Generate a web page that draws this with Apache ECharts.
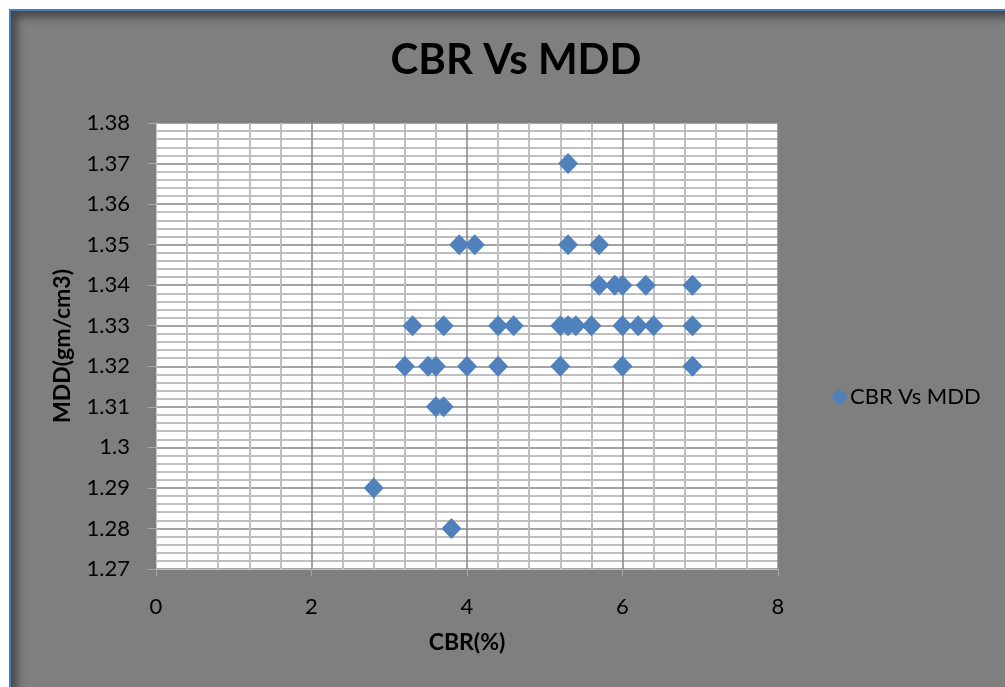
<!DOCTYPE html>
<html>
<head>
<meta charset="utf-8">
<script src="https://cdn.jsdelivr.net/npm/echarts@6/dist/echarts.min.js"></script>
<style>
html,body{margin:0;padding:0;background:#ffffff;overflow:hidden;}
#frame{position:absolute;left:9px;top:9px;width:1010px;height:700px;background:#7f7f7f;border-left:2px solid #4a7ebb;border-top:2px solid #4a7ebb;box-shadow:inset 6px 6px 10px rgba(0,0,0,0.45);}
#chart{position:absolute;left:0;top:0;width:1005px;height:687px;}
</style>
</head>
<body>
<div id="frame"></div>
<div id="chart"></div>
<script>
const seriesName = 'CBR Vs MDD';
const cbr = [5.3, 3.9, 4.1, 5.3, 5.7,
             5.7, 5.9, 6.0, 6.3, 6.9,
             3.3, 3.7, 4.4, 4.6, 5.2, 5.3, 5.4, 5.6, 6.0, 6.2, 6.4, 6.9,
             3.2, 3.5, 3.6, 4.0, 4.4, 5.2, 6.0, 6.9,
             3.6, 3.7, 2.8, 3.8];
const mdd = [1.37, 1.35, 1.35, 1.35, 1.35,
             1.34, 1.34, 1.34, 1.34, 1.34,
             1.33, 1.33, 1.33, 1.33, 1.33, 1.33, 1.33, 1.33, 1.33, 1.33, 1.33, 1.33,
             1.32, 1.32, 1.32, 1.32, 1.32, 1.32, 1.32, 1.32,
             1.31, 1.31, 1.29, 1.28];
const points = cbr.map((x, i) => [x, mdd[i]]);

const chart = echarts.init(document.getElementById('chart'), null, {renderer: 'canvas'});
const fontFam = 'Lato, "Open Sans", sans-serif';
chart.setOption({
  backgroundColor: 'transparent',
  animation: false,
  title: {
    text: 'CBR Vs MDD',
    left: 511, top: 34, textAlign: 'center',
    textStyle: {fontFamily: fontFam, fontWeight: 'bold', fontSize: 42, color: '#000'}
  },
  legend: {
    left: 826, top: 381,
    itemWidth: 17, itemHeight: 17, itemGap: 6,
    icon: 'diamond',
    textStyle: {fontFamily: fontFam, fontSize: 22, color: '#000', padding: [0, 0, 0, -3]},
    data: [seriesName]
  },
  grid: {left: 156, top: 123, right: 227, bottom: 118, containLabel: false,
    show: true, backgroundColor: '#ffffff', borderWidth: 0},
  xAxis: {
    type: 'value', min: 0, max: 8, interval: 2,
    name: 'CBR(%)', nameLocation: 'middle', nameGap: 62,
    nameTextStyle: {fontFamily: fontFam, fontWeight: 'bold', fontSize: 23, color: '#000'},
    axisLine: {show: true, lineStyle: {color: '#bfbfbf', width: 1}},
    axisTick: {show: true, length: 7, lineStyle: {color: '#a6a6a6'}},
    axisLabel: {fontFamily: fontFam, fontSize: 22, color: '#000', margin: 27},
    splitLine: {show: true, lineStyle: {color: '#868686', width: 1.5}},
    minorTick: {show: false, splitNumber: 5},
    minorSplitLine: {show: true, lineStyle: {color: '#bfbfbf', width: 2}}
  },
  yAxis: {
    type: 'value', min: 1.27, max: 1.38, interval: 0.01,
    name: 'MDD(gm/cm3)', nameLocation: 'middle', nameGap: 82, nameRotate: 90,
    nameTextStyle: {fontFamily: fontFam, fontWeight: 'bold', fontSize: 23, color: '#000'},
    axisLine: {show: true, lineStyle: {color: '#bfbfbf', width: 1}},
    axisTick: {show: true, length: 8, lineStyle: {color: '#a6a6a6'}},
    axisLabel: {fontFamily: fontFam, fontSize: 22, color: '#000', margin: 26,
      formatter: v => String(parseFloat(v.toFixed(2)))},
    splitLine: {show: true, lineStyle: {color: '#868686', width: 1.5}},
    minorTick: {show: false, splitNumber: 5},
    minorSplitLine: {show: true, lineStyle: {color: '#bfbfbf', width: 2}}
  },
  series: [{
    name: seriesName,
    type: 'scatter',
    symbol: 'diamond',
    symbolSize: [20, 21],
    itemStyle: {color: '#4f81bd', opacity: 1},
    data: points
  }]
});
</script>
</body>
</html>
